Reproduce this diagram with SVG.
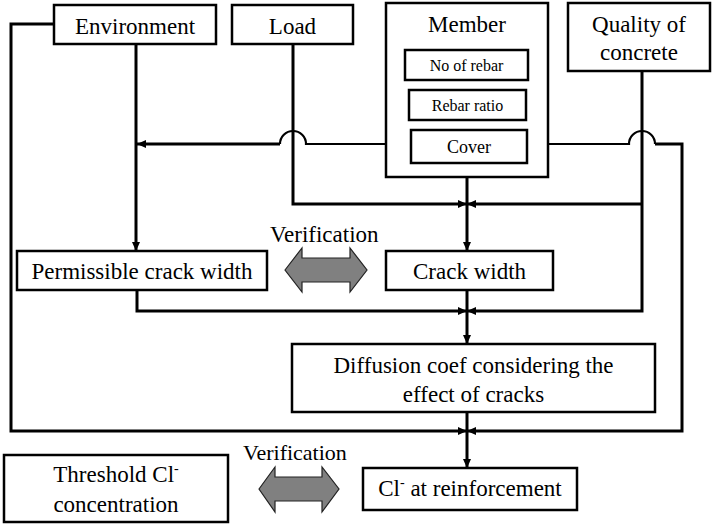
<svg xmlns="http://www.w3.org/2000/svg" width="712" height="524" viewBox="0 0 712 524">
<style>
  .box{fill:#fff;stroke:#000;stroke-width:2.5}
  text{font-family:Liberation Serif, Times New Roman, Times, serif;font-size:23px;fill:#000;text-anchor:middle}
  .s{font-size:16px}
  .c{fill:none;stroke:#000;stroke-width:3;stroke-linejoin:miter}
  .thin{stroke-width:2.2}
  .dbl{fill:#808080;stroke:#222;stroke-width:1.2}
</style>
<defs>
  <marker id="ah" viewBox="0 0 9 8" markerUnits="userSpaceOnUse" markerWidth="9" markerHeight="8" refX="9" refY="4" orient="auto">
    <path d="M0,0 L9,4 L0,8 z" fill="#000"/>
  </marker>
</defs>
<rect width="712" height="524" fill="#fff"/>
<g id="connectors">
  <path class="c" d="M54,24 H11 V431 H467" marker-end="url(#ah)"/>
  <path class="c" d="M136,44 V251" marker-end="url(#ah)"/>
  <path class="c thin" d="M386,144 H306 A13,13 0 0 0 280,144"/>
  <path class="c" d="M280,144 H137" marker-end="url(#ah)"/>
  <path class="c" d="M293,44 V204 H467" marker-end="url(#ah)"/>
  <path class="c thin" d="M548,144 H629 A13,13 0 0 1 655,144"/>
  <path class="c" d="M655,144 H682 V431 H467" marker-end="url(#ah)"/>
  <path class="c" d="M642,71 V311 H467" marker-end="url(#ah)"/>
  <path class="c" d="M642,204 H467" marker-end="url(#ah)"/>
  <path class="c" d="M467,177 V251" marker-end="url(#ah)"/>
  <path class="c" d="M137,290 V311 H467" marker-end="url(#ah)"/>
  <path class="c" d="M467,290 V344" marker-end="url(#ah)"/>
  <path class="c" d="M467,412 V468" marker-end="url(#ah)"/>
</g>
<g id="environment">
  <rect class="box" x="54" y="5" width="162" height="39"/>
  <text x="135" y="34">Environment</text>
</g>
<g id="load">
  <rect class="box" x="232" y="5" width="121" height="39"/>
  <text x="292.5" y="34">Load</text>
</g>
<g id="member">
  <rect class="box" x="386" y="3" width="162" height="174"/>
  <text x="467" y="32">Member</text>
  <g id="no-of-rebar">
    <rect class="box" x="405" y="50" width="123" height="30"/>
    <text class="s" x="466.5" y="71">No of rebar</text>
  </g>
  <g id="rebar-ratio">
    <rect class="box" x="409" y="90" width="117" height="30"/>
    <text class="s" x="467.5" y="111">Rebar ratio</text>
  </g>
  <g id="cover">
    <rect class="box" x="411" y="130" width="116" height="33"/>
    <text x="469" y="153" style="font-size:18px">Cover</text>
  </g>
</g>
<g id="quality">
  <rect class="box" x="568" y="3" width="142" height="68"/>
  <text x="639" y="32">Quality of</text>
  <text x="639" y="60">concrete</text>
</g>
<g id="permissible">
  <rect class="box" x="17" y="251" width="250" height="39"/>
  <text x="142" y="279">Permissible crack width</text>
</g>
<g id="verification-1">
  <polygon class="dbl" points="285,270 302,248 302,258 350,258 350,248 367,270 350,292 350,282 302,282 302,292"/>
  <text x="270" y="242" style="text-anchor:start">Verification</text>
</g>
<g id="crack-width">
  <rect class="box" x="386" y="251" width="167" height="39"/>
  <text x="469.5" y="279">Crack width</text>
</g>
<g id="diffusion">
  <rect class="box" x="292" y="344" width="363" height="68"/>
  <text x="473.5" y="373">Diffusion coef considering the</text>
  <text x="473.5" y="402">effect of cracks</text>
</g>
<g id="threshold">
  <rect class="box" x="4" y="455" width="224" height="67"/>
  <text x="116" y="482">Threshold Cl<tspan dy="-9" style="font-size:14px">-</tspan></text>
  <text x="116" y="512">concentration</text>
</g>
<g id="verification-2">
  <polygon class="dbl" points="259,489 275,467 275,477 322,477 322,467 339,489 322,512 322,501 275,501 275,512"/>
  <text x="243" y="460" style="text-anchor:start;font-size:22px">Verification</text>
</g>
<g id="cl-reinforcement">
  <rect class="box" x="363" y="468" width="214" height="42"/>
  <text x="470" y="496">Cl<tspan dy="-9" style="font-size:14px">-</tspan><tspan dy="9"> at reinforcement</tspan></text>
</g>
</svg>
